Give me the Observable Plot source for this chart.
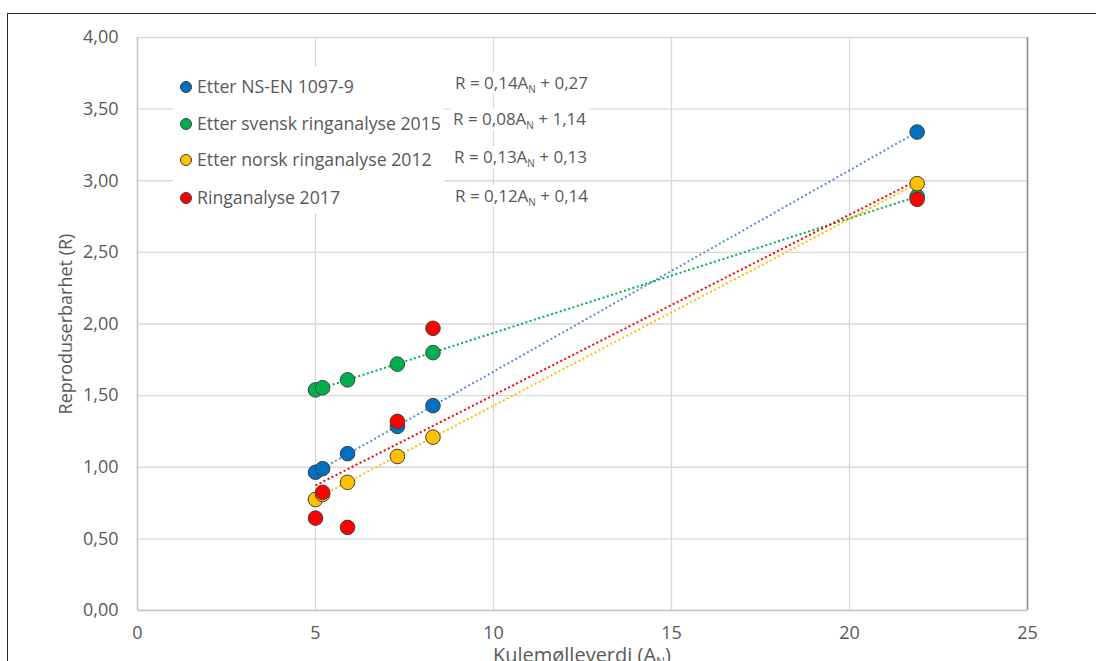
<!DOCTYPE html>
<html>
<head>
<meta charset="utf-8">
<script src="https://cdn.jsdelivr.net/npm/d3@7"></script>
<script src="https://cdn.jsdelivr.net/npm/@observablehq/plot@0.6"></script>
<style>
  html, body { margin: 0; padding: 0; background: white; }
  #wrap { position: relative; width: 1096px; height: 661px; overflow: hidden; font-family: "Open Sans", sans-serif; color: #595959; }
  #wrap svg { position: absolute; left: 0; top: 0; }
  .border { position: absolute; left: 7px; top: 13px; width: 1200px; height: 800px; border: 1.5px solid #262626; pointer-events: none; }
  .legend { position: absolute; left: 173px; top: 67px; width: 271px; height: 146px; background: white; }
  .lrow { position: absolute; left: 7px; font-size: 17.7px; line-height: 22px; white-space: nowrap; }
  .lrow i { display: inline-block; width: 10px; height: 10px; border-radius: 50%; border: 1px solid #404040; margin-right: 5px; vertical-align: 0px; }
  .eq { position: absolute; background: white; font-size: 17px; line-height: 22px; padding: 0 3px; white-space: nowrap; }
  .eq sub { font-size: 10px; vertical-align: -4px; line-height: 0; }
  .xtitle { position: absolute; left: 0; width: 1164px; text-align: center; top: 646px; font-size: 20px; line-height: 18px; white-space: nowrap; }
  .xtitle sub { font-size: 12px; vertical-align: -4px; line-height: 0; }
</style>
</head>
<body>
<div id="wrap"></div>
<script>
// ---- data ----
const series = ["Etter NS-EN 1097-9", "Etter svensk ringanalyse 2015", "Etter norsk ringanalyse 2012", "Ringanalyse 2017"];
const xValues = [5.0, 5.2, 5.9, 7.3, 8.3, 21.9];
const nsEn = [0.965, 0.99, 1.095, 1.285, 1.43, 3.34];
const svensk = [1.54, 1.555, 1.61, 1.72, 1.80, 2.89];
const norsk = [0.775, 0.81, 0.895, 1.075, 1.21, 2.98];
const ring2017 = [0.645, 0.825, 0.58, 1.32, 1.97, 2.87];
const slopes = [0.14, 0.08, 0.13, 0.12];
const intercepts = [0.27, 1.14, 0.13, 0.14];
const xTicks = [0, 5, 10, 15, 20, 25];
const yTicks = [0, 0.5, 1, 1.5, 2, 2.5, 3, 3.5, 4];
const xLabel = "Kulemølleverdi (A";
const xLabelSub = "N";
const yLabel = "Reproduserbarhet (R)";

// ---- styles ----
const dotColors = ["#0070C0", "#00B050", "#FFC000", "#FF0000"];
const lineColors = ["#5B8FD0", "#00B050", "#FFC000", "#FF0000"];

const valuesBySeries = [nsEn, svensk, norsk, ring2017];
const rows = [];
series.forEach((s, i) => xValues.forEach((x, j) => rows.push({series: s, x, y: valuesBySeries[i][j]})));

const comma = (v, d) => v.toFixed(d).replace(".", ",");

const chart = Plot.plot({
  width: 1096,
  height: 661,
  marginLeft: 137,
  marginRight: 69,
  marginTop: 37,
  marginBottom: 51,
  style: {fontFamily: "Open Sans, sans-serif", fontSize: "18px", color: "#595959", background: "transparent"},
  x: {domain: [xTicks[0], xTicks[xTicks.length - 1]]},
  y: {domain: [yTicks[0], yTicks[yTicks.length - 1]]},
  color: {domain: series, range: dotColors},
  marks: [
    Plot.gridX({ticks: xTicks, stroke: "#d9d9d9", strokeOpacity: 1, strokeWidth: 1.3}),
    Plot.gridY({ticks: yTicks, stroke: "#d9d9d9", strokeOpacity: 1, strokeWidth: 1.3}),
    Plot.ruleX([xTicks[0]], {stroke: "#c8c8c8", strokeWidth: 1.5}),
    Plot.ruleY([yTicks[0]], {stroke: "#c8c8c8", strokeWidth: 1.5}),
    Plot.ruleX([xTicks[xTicks.length - 1]], {stroke: "#8c8c8c", strokeWidth: 1.5}),
    Plot.axisY({ticks: yTicks, tickSize: 0, tickPadding: 19, tickFormat: d => comma(d, 2), fill: "#595959", fontSize: 18,
      label: yLabel, labelAnchor: "center", labelOffset: 78, labelArrow: "none"}),
    Plot.axisX({ticks: xTicks, tickSize: 0, tickPadding: 16, tickFormat: d => String(d), fill: "#595959", fontSize: 18, label: null}),
    ...series.map((s, i) => Plot.linearRegressionY(rows.filter(r => r.series === s), {
      x: "x", y: "y", stroke: lineColors[i], ci: 0, strokeWidth: 2, strokeDasharray: "2,2.5", strokeLinecap: "butt"
    })),
    Plot.dot(rows, {x: "x", y: "y", fill: "series", r: 7.3, stroke: "#404040", strokeWidth: 1})
  ]
});

// make sure trend lines are dotted
chart.querySelectorAll("g[aria-label='linear-regression'] path").forEach(p => {
  p.setAttribute("stroke-dasharray", "2,2.5");
});

const wrap = document.getElementById("wrap");
wrap.appendChild(chart);

// legend
const legend = document.createElement("div");
legend.className = "legend";
const rowTops = [8, 45, 81, 119];
series.forEach((s, i) => {
  const r = document.createElement("div");
  r.className = "lrow";
  r.style.top = rowTops[i] + "px";
  const m = document.createElement("i");
  m.style.background = dotColors[i];
  r.appendChild(m);
  r.appendChild(document.createTextNode(s));
  legend.appendChild(r);
});
wrap.appendChild(legend);

// equations
const eqPos = [[452, 72], [450, 108], [451, 146], [452, 185]];
series.forEach((s, i) => {
  const e = document.createElement("div");
  e.className = "eq";
  e.style.left = eqPos[i][0] + "px";
  e.style.top = eqPos[i][1] + "px";
  e.innerHTML = "R = " + comma(slopes[i], 2) + "A<sub>N</sub> + " + comma(intercepts[i], 2);
  wrap.appendChild(e);
});

// x title
const xt = document.createElement("div");
xt.className = "xtitle";
xt.innerHTML = xLabel + "<sub>" + xLabelSub + "</sub>)";
wrap.appendChild(xt);

// outer border
const b = document.createElement("div");
b.className = "border";
wrap.appendChild(b);
</script>
</body>
</html>
